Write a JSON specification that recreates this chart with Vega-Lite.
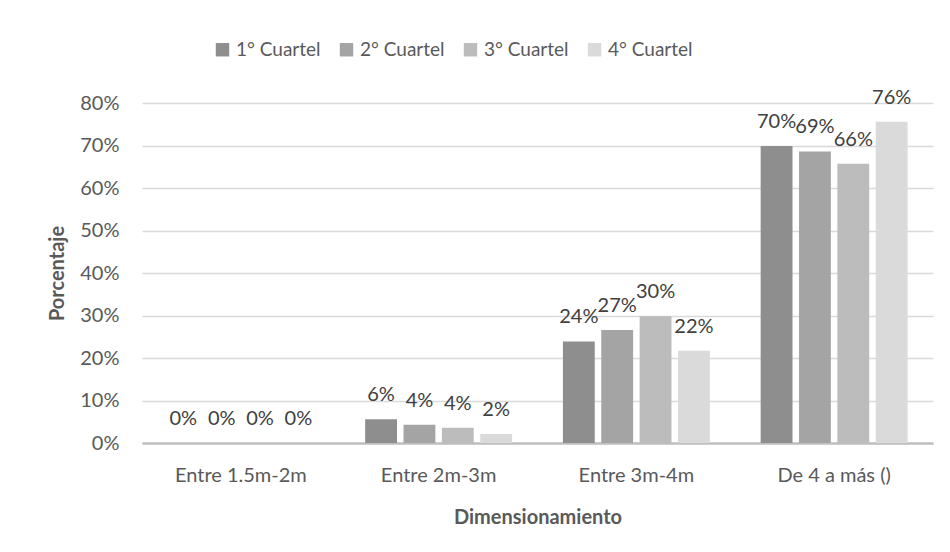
{
  "$schema": "https://vega.github.io/schema/vega-lite/v6.json",
  "width": 791,
  "height": 340,
  "autosize": {"type": "none"},
  "padding": {"left": 142, "top": 103, "right": 17, "bottom": 109},
  "background": "white",
  "config": {
    "font": "Lato",
    "view": {"stroke": null},
    "axis": {"labelColor": "#595959", "titleColor": "#595959", "labelFont": "Lato", "titleFont": "Lato"}
  },
  "data": {
    "values": [
      {"dim": "Entre 1.5m-2m", "cuartel": "1° Cuartel", "valor": 0},
      {"dim": "Entre 1.5m-2m", "cuartel": "2° Cuartel", "valor": 0},
      {"dim": "Entre 1.5m-2m", "cuartel": "3° Cuartel", "valor": 0},
      {"dim": "Entre 1.5m-2m", "cuartel": "4° Cuartel", "valor": 0},
      {"dim": "Entre 2m-3m", "cuartel": "1° Cuartel", "valor": 0.056},
      {"dim": "Entre 2m-3m", "cuartel": "2° Cuartel", "valor": 0.043},
      {"dim": "Entre 2m-3m", "cuartel": "3° Cuartel", "valor": 0.036},
      {"dim": "Entre 2m-3m", "cuartel": "4° Cuartel", "valor": 0.021},
      {"dim": "Entre 3m-4m", "cuartel": "1° Cuartel", "valor": 0.239},
      {"dim": "Entre 3m-4m", "cuartel": "2° Cuartel", "valor": 0.266},
      {"dim": "Entre 3m-4m", "cuartel": "3° Cuartel", "valor": 0.298},
      {"dim": "Entre 3m-4m", "cuartel": "4° Cuartel", "valor": 0.217},
      {"dim": "De 4 a más ()", "cuartel": "1° Cuartel", "valor": 0.699},
      {"dim": "De 4 a más ()", "cuartel": "2° Cuartel", "valor": 0.686},
      {"dim": "De 4 a más ()", "cuartel": "3° Cuartel", "valor": 0.657},
      {"dim": "De 4 a más ()", "cuartel": "4° Cuartel", "valor": 0.756}
    ]
  },
  "encoding": {
    "x": {
      "field": "dim", "type": "nominal", "sort": null,
      "scale": {"paddingInner": 0.257, "paddingOuter": 0.1285},
      "axis": {
        "title": "Dimensionamiento", "labelAngle": 0, "labelFontSize": 20,
        "titleFontSize": 20, "titleFontWeight": "bold", "titlePadding": 22,
        "labelPadding": 22, "ticks": false, "tickSize": 0,
        "domainColor": "#bfbfbf", "domainWidth": 2.5, "grid": false
      }
    },
    "xOffset": {
      "field": "cuartel", "type": "nominal", "sort": null,
      "scale": {"paddingInner": 0.17, "paddingOuter": 0}
    },
    "y": {
      "field": "valor", "type": "quantitative",
      "scale": {"domain": [0, 0.8], "nice": false},
      "axis": {
        "title": "Porcentaje", "format": ".0%", "values": [0, 0.1, 0.2, 0.3, 0.4, 0.5, 0.6, 0.7, 0.8],
        "labelFontSize": 20, "titleFontSize": 20, "titleFontWeight": "bold",
        "titlePadding": 12, "labelPadding": 23, "ticks": false, "tickSize": 0,
        "domain": false, "gridColor": "#d9d9d9", "gridWidth": 1.3
      }
    }
  },
  "layer": [
    {
      "mark": {"type": "bar"},
      "encoding": {
        "color": {
          "field": "cuartel", "type": "nominal", "sort": null,
          "scale": {
            "domain": ["1° Cuartel", "2° Cuartel", "3° Cuartel", "4° Cuartel"],
            "range": ["#8e8e8e", "#a4a4a4", "#bcbcbc", "#dadada"]
          },
          "legend": {
            "title": null, "orient": "none", "direction": "horizontal",
            "legendX": 71, "legendY": -63,
            "symbolType": "square", "symbolSize": 180, "symbolStrokeWidth": 0,
            "labelFontSize": 19, "labelColor": "#595959", "labelFont": "Lato",
            "labelOffset": 4, "columnPadding": 16
          }
        }
      }
    },
    {
      "mark": {"type": "text", "dy": -24, "baseline": "middle", "align": "center", "fontSize": 20, "color": "#404040", "font": "Lato"},
      "encoding": {
        "text": {"field": "valor", "type": "quantitative", "format": ".0%"}
      }
    }
  ]
}
